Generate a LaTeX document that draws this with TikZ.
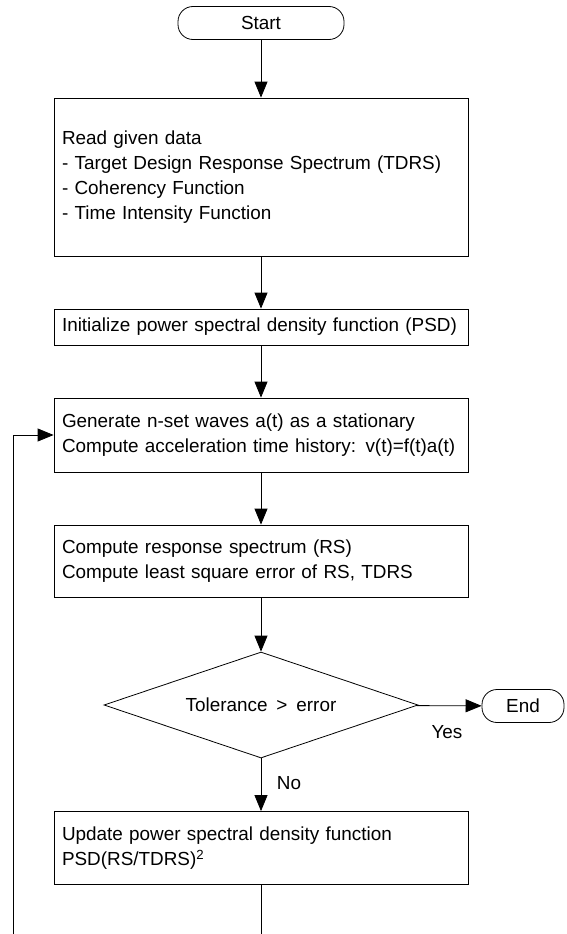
\documentclass[tikz,border=0pt]{standalone}
\usepackage{fontspec}
\setmainfont{Liberation Sans}[WordSpace=1.7]
\usetikzlibrary{arrows.meta,shapes.geometric}
\begin{document}
\begin{tikzpicture}[x=1pt,y=-1pt,
  every node/.style={font=\fontsize{18.9}{25}\selectfont},
  procbox/.style={draw,line width=0.8pt,rectangle,minimum width=414pt,text width=398pt,inner xsep=8pt,inner ysep=0pt,align=left},
  termbox/.style={draw,line width=0.8pt,rectangle,rounded corners=15pt,minimum height=33pt,inner sep=0pt},
  decbox/.style={draw,line width=0.8pt,diamond,aspect=3,minimum width=314pt,minimum height=106pt,inner sep=0pt},
  flow/.style={line width=0.8pt,-{Triangle[length=16pt,width=13pt]}},
  plain/.style={line width=0.8pt},
  lbl/.style={inner sep=0pt}]
\useasboundingbox (0,0) rectangle (566,934);
\node[termbox,minimum width=166pt] (start) at (261,23) {Start};
\node[procbox,minimum height=158pt] (read) at (261,177) {Read given data\\- Target Design Response Spectrum (TDRS)\\- Coherency Function\\- Time Intensity Function};
\node[procbox,minimum height=36pt] (init) at (261,327) {Initialize power spectral density function (PSD)};
\node[procbox,minimum height=74pt] (gen) at (261,435) {Generate n-set waves a(t) as a stationary\\Compute acceleration time history: v(t)=f(t)a(t)};
\node[procbox,minimum height=72pt] (comp) at (261,561) {Compute response spectrum (RS)\\Compute least square error of RS, TDRS};
\node[decbox] (dec) at (261,705) {Tolerance > error};
\node[termbox,minimum width=82pt] (end) at (523,706) {End};
\node[procbox,minimum height=73pt] (upd) at (261,848) {Update power spectral density function\\PSD(RS/TDRS)\textsuperscript{2}};
\node[lbl] (yes) at (447,732) {Yes};
\node[lbl] (no) at (289,783) {No};
\coordinate (b1) at (261,934);
\coordinate (b2) at (13,934);
\draw[flow] (start) -- (read);
\draw[flow] (read) -- (init);
\draw[flow] (init) -- (gen);
\draw[flow] (gen) -- (comp);
\draw[flow] (comp) -- (dec);
\draw[flow] (dec) -- (end);
\draw[flow] (dec) -- (upd);
\draw[plain] (upd) -- (b1);
\draw[flow] (b2) |- (gen.west);
\end{tikzpicture}
\end{document}
